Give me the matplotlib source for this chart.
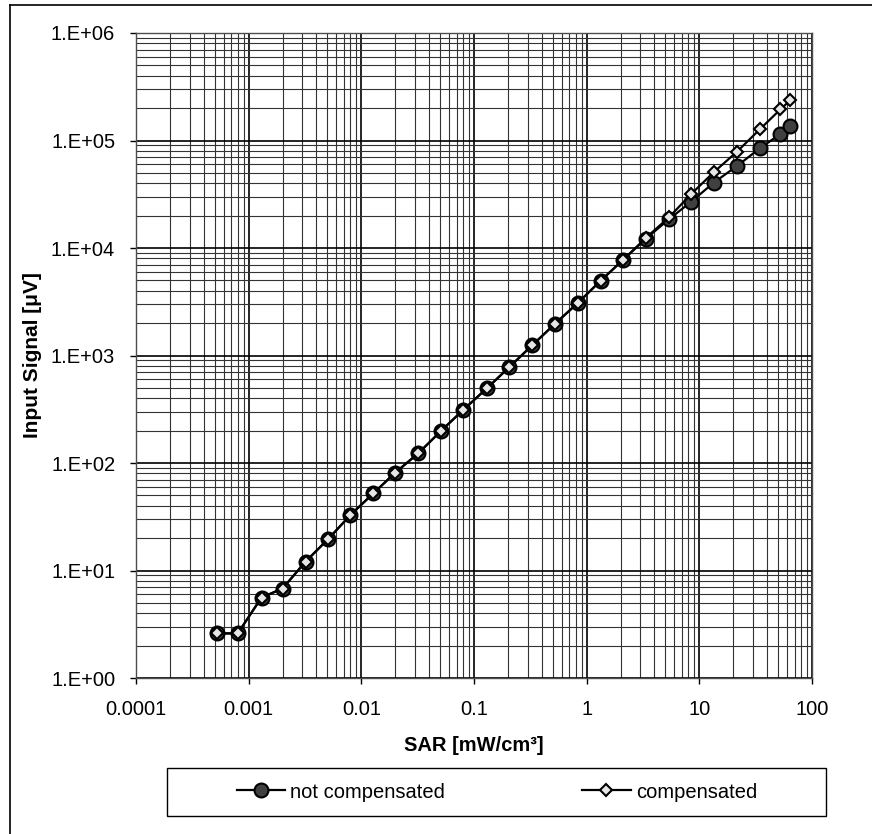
import matplotlib
matplotlib.use("Agg")
import math
import matplotlib.pyplot as plt
from matplotlib.lines import Line2D
from matplotlib.patches import Rectangle
from matplotlib.ticker import FixedLocator, FuncFormatter, LogLocator, NullFormatter

plt.rcParams['font.family'] = ['Liberation Sans', 'DejaVu Sans']

# SAR values (x)
sar = [0.00052, 0.0008, 0.0013, 0.002, 0.0032, 0.0051, 0.008, 0.0128, 0.02,
       0.032, 0.051, 0.08, 0.13, 0.205, 0.33, 0.52, 0.84, 1.33, 2.1, 3.35,
       5.4, 8.5, 13.4, 21.6, 34.4, 52.5, 64.4]

# input signal, not compensated
sig_nc = [2.6, 2.6, 5.6, 6.8, 12.1, 19.7, 32.8, 52.3, 81.3, 123, 199, 311,
          495, 777, 1250, 1960, 3100, 4960, 7730, 12200, 18600, 27000,
          40500, 57900, 84600, 115000, 136000]

# input signal, compensated
sig_c = [2.6, 2.6, 5.6, 6.8, 12.1, 19.7, 32.8, 52.3, 81.3, 123, 199, 311,
         495, 777, 1250, 1960, 3100, 4960, 7730, 12400, 19400, 31900,
         50600, 78700, 127000, 195000, 238000]

x_ticks = [0.0001, 0.001, 0.01, 0.1, 1, 10, 100]
x_tick_labels = ['0.0001', '0.001', '0.01', '0.1', '1', '10', '100']
y_ticks = [1, 10, 100, 1e3, 1e4, 1e5, 1e6]

fig = plt.figure(figsize=(8.72, 8.34), dpi=100)
ax = fig.add_axes([136/872, 1-678/834, (812-136)/872, (678-33)/834])

ax.set_xscale('log')
ax.set_yscale('log')
ax.set_xlim(1e-4, 100)
ax.set_ylim(1, 1e6)

# grid lines
ax.xaxis.set_minor_locator(LogLocator(base=10, subs=range(2, 10)))
ax.yaxis.set_minor_locator(LogLocator(base=10, subs=range(2, 10)))
ax.xaxis.set_minor_formatter(NullFormatter())
ax.yaxis.set_minor_formatter(NullFormatter())
ax.grid(True, which='major', color='black', lw=1.2)
ax.grid(True, which='minor', color='0.2', lw=0.8)
ax.set_axisbelow(True)

ax.plot(sar, sig_nc, '-', color='black', lw=1.6, marker='o', ms=10,
        mfc='0.25', mec='black', mew=1.5, label='not compensated', zorder=3)
ax.plot(sar, sig_c, '-', color='black', lw=1.6, marker='D', ms=6,
        mfc='0.9', mec='black', mew=1.5, label='compensated', zorder=4)

ax.xaxis.set_major_locator(FixedLocator(x_ticks))
ax.set_xticklabels(x_tick_labels)
ax.yaxis.set_major_locator(FixedLocator(y_ticks))
ax.yaxis.set_major_formatter(FuncFormatter(lambda v, p: '1.E+%02d' % round(math.log10(v))))
ax.tick_params(which='major', direction='out', length=4, width=1, labelsize=14.5, pad=12)
ax.tick_params(axis='y', which='major', pad=11)
ax.tick_params(which='minor', length=0)
for s in ax.spines.values():
    s.set_color('0.3')
    s.set_linewidth(1)

ax.set_xlabel('SAR [mW/cm³]', fontsize=14.5, fontweight='bold', labelpad=12)
ax.set_ylabel('Input Signal [μV]', fontsize=15, fontweight='bold')
ax.yaxis.set_label_coords(-(136-42)/676, 0.5)

# legend box below the plot
fig.patches.append(Rectangle((167/872, 1-816/834), (826-167)/872, 48/834,
                             transform=fig.transFigure, fill=False,
                             edgecolor='black', lw=1))
h, l = ax.get_legend_handles_labels()
fig.legend(h, l, loc='center', bbox_to_anchor=(497/872, 1-792/834), ncol=2,
           frameon=False, fontsize=14.5, handlelength=2.4, handletextpad=0.25,
           columnspacing=6.8)

# outer chart frame (left and top edges)
fig.add_artist(Line2D([10/872, 10/872], [0, 1-5/834], transform=fig.transFigure, color='black', lw=1.2))
fig.add_artist(Line2D([10/872, 1], [1-5/834, 1-5/834], transform=fig.transFigure, color='black', lw=1.2))

fig.savefig('out.png', dpi=100)
